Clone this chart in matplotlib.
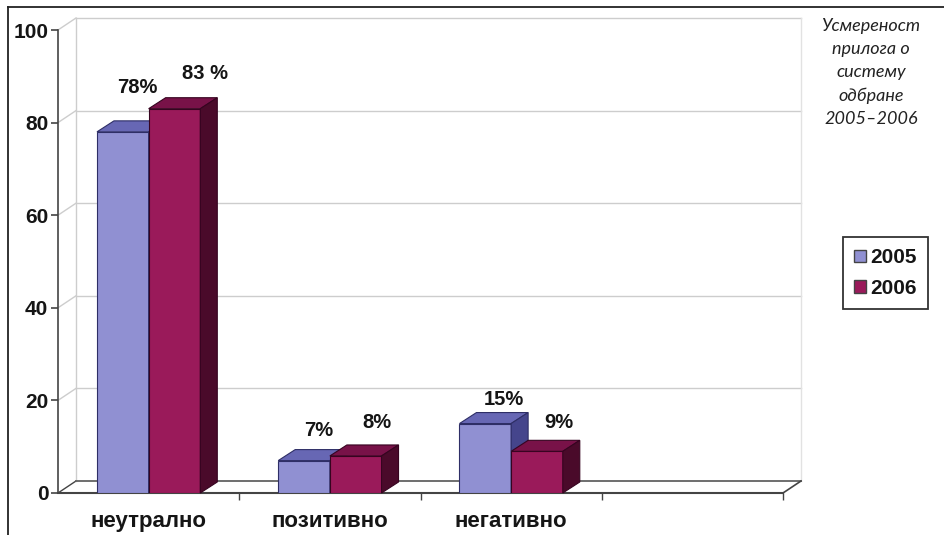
import numpy as np
import matplotlib
matplotlib.use("Agg")
import matplotlib.pyplot as plt
from matplotlib.patches import Polygon, Patch
from matplotlib.lines import Line2D

categories = ["неутрално", "позитивно", "негативно", ""]
years = ["2005", "2006"]
vals_2005 = [78, 7, 15]
vals_2006 = [83, 8, 9]
labels_2005 = ["78%", "7%", "15%"]
labels_2006 = ["83 %", "8%", "9%"]
title = "Усмереност\nприлога о\nсистему\nодбране\n2005–2006"

# colours: front, top, side, edge
blue = ("#9090d2", "#6767b4", "#45458c", "#2e2e66")
red = ("#9a1a5a", "#781248", "#4a0a2a", "#360420")

# label offsets in px (dx, dy) from bar top, hand tuned
off_2005 = [(6, 33), (6, 19), (10, 13)]
off_2006 = [(22, 24), (13, 22), (13, 18)]

W, H = 945, 535
fig = plt.figure(figsize=(W / 100, H / 100), dpi=100)
ax_l, ax_b, ax_w, ax_h = 58 / W, (H - 493) / H, 725 / W, 463 / H
ax = fig.add_axes([ax_l, ax_b, ax_w, ax_h])
ncat = len(categories)
ax.set_xlim(-0.5, ncat - 0.5)
ax.set_ylim(0, 100)

# pixel -> data scale
px_x = ncat / (ax_w * W)
px_y = 100 / (ax_h * H)
wdx, wdy = 18 * px_x, 12 * px_y   # wall depth
bdx, bdy = 17 * px_x, 11 * px_y   # bar depth
x0, x1 = -0.5, ncat - 0.5

grid_c = "#cdcdcd"
# back wall grid + left wall connectors
for v in range(0, 101, 20):
    if v > 0:
        ax.plot([x0 + wdx, x1 + wdx], [v + wdy, v + wdy], color=grid_c, lw=1, clip_on=False, zorder=1)
    ax.plot([x0, x0 + wdx], [v, v + wdy], color=grid_c if v > 0 else "#444444", lw=1, clip_on=False, zorder=1)
ax.plot([x0 + wdx, x0 + wdx], [wdy, 100 + wdy], color=grid_c, lw=1, clip_on=False, zorder=1)
ax.plot([x1 + wdx, x1 + wdx], [wdy, 100 + wdy], color="#e2e2e2", lw=1, clip_on=False, zorder=1)
# floor
ax.plot([x0 + wdx, x1 + wdx], [wdy, wdy], color="#555555", lw=1.2, clip_on=False, zorder=1)
ax.plot([x0, x1], [0, 0], color="#444444", lw=1.5, clip_on=False, zorder=1)
ax.plot([x1, x1 + wdx], [0, wdy], color="#444444", lw=1.2, clip_on=False, zorder=1)

bw = 0.285
x = np.arange(len(vals_2005))


def bar3d(xs, vals, cols, z):
    ax.bar(xs, vals, bw, align="edge", color=cols[0], edgecolor=cols[3], lw=0.8, zorder=z)
    for xi, v in zip(xs, vals):
        top = [(xi, v), (xi + bw, v), (xi + bw + bdx, v + bdy), (xi + bdx, v + bdy)]
        side = [(xi + bw, 0), (xi + bw + bdx, bdy), (xi + bw + bdx, v + bdy), (xi + bw, v)]
        ax.add_patch(Polygon(top, closed=True, fc=cols[1], ec=cols[3], lw=0.8, zorder=z, clip_on=False))
        ax.add_patch(Polygon(side, closed=True, fc=cols[2], ec=cols[3], lw=0.8, zorder=z, clip_on=False))


bar3d(x - bw, vals_2005, blue, 3)
bar3d(x, vals_2006, red, 4)

txt_c = "#151515"
lab_font = dict(fontsize=14.5, fontweight="bold", family="Liberation Sans", color=txt_c,
                ha="center", va="center")
for xi, v, t, (ox, oy) in zip(x - bw, vals_2005, labels_2005, off_2005):
    ax.annotate(t, (xi + bw / 2 + bdx / 2, v + bdy), xytext=(ox * 0.72, oy * 0.72),
                textcoords="offset points", annotation_clip=False, zorder=6, **lab_font)
for xi, v, t, (ox, oy) in zip(x, vals_2006, labels_2006, off_2006):
    ax.annotate(t, (xi + bw / 2 + bdx / 2, v + bdy), xytext=(ox * 0.72, oy * 0.72),
                textcoords="offset points", annotation_clip=False, zorder=6, **lab_font)

# axes styling
for s in ["top", "right", "bottom"]:
    ax.spines[s].set_visible(False)
ax.spines["left"].set_color("#444444")
ax.spines["left"].set_linewidth(1.2)
ax.set_yticks(range(0, 101, 20))
ax.tick_params(axis="y", direction="out", length=5, width=1.2, color="#444444", pad=2)
for t in ax.get_yticklabels():
    t.set_fontsize(15)
    t.set_fontweight("bold")
    t.set_family("Liberation Sans")
    t.set_color(txt_c)
ax.set_xticks(range(ncat))
ax.set_xticklabels(categories, fontsize=16, fontweight="bold", family="Liberation Sans", color=txt_c)
ax.tick_params(axis="x", length=0, pad=13)
ax.set_xticks(np.arange(ncat) + 0.5, minor=True)
ax.tick_params(axis="x", which="minor", direction="out", length=5, color="#444444", width=1)
ax.patch.set_alpha(0)

# outer frame (top and left)
fig.add_artist(Line2D([8 / W, 1], [1 - 7 / H, 1 - 7 / H], color="#222222", lw=1.3))
fig.add_artist(Line2D([8 / W, 8 / W], [0, 1 - 7 / H], color="#222222", lw=1.3))

fig.text(871 / W, 1 - 18 / H, title, ha="center", va="top", fontsize=13, style="italic",
         fontweight="normal", family="Lato", color="#222222", linespacing=1.55)

handles = [Patch(fc=blue[0], ec="#444444"), Patch(fc=red[0], ec="#444444")]
leg = fig.legend(handles, years, loc="upper left", bbox_to_anchor=(843 / W, 1 - 237 / H),
                 prop=dict(family="Liberation Sans", weight="bold", size=15),
                 handlelength=0.55, handleheight=0.55, handletextpad=0.2, borderpad=0.55,
                 labelspacing=0.55, borderaxespad=0, fancybox=False, framealpha=1, edgecolor="#333333")
leg.get_frame().set_linewidth(1.3)
for t in leg.get_texts():
    t.set_color(txt_c)

fig.savefig("out.png", dpi=100)
